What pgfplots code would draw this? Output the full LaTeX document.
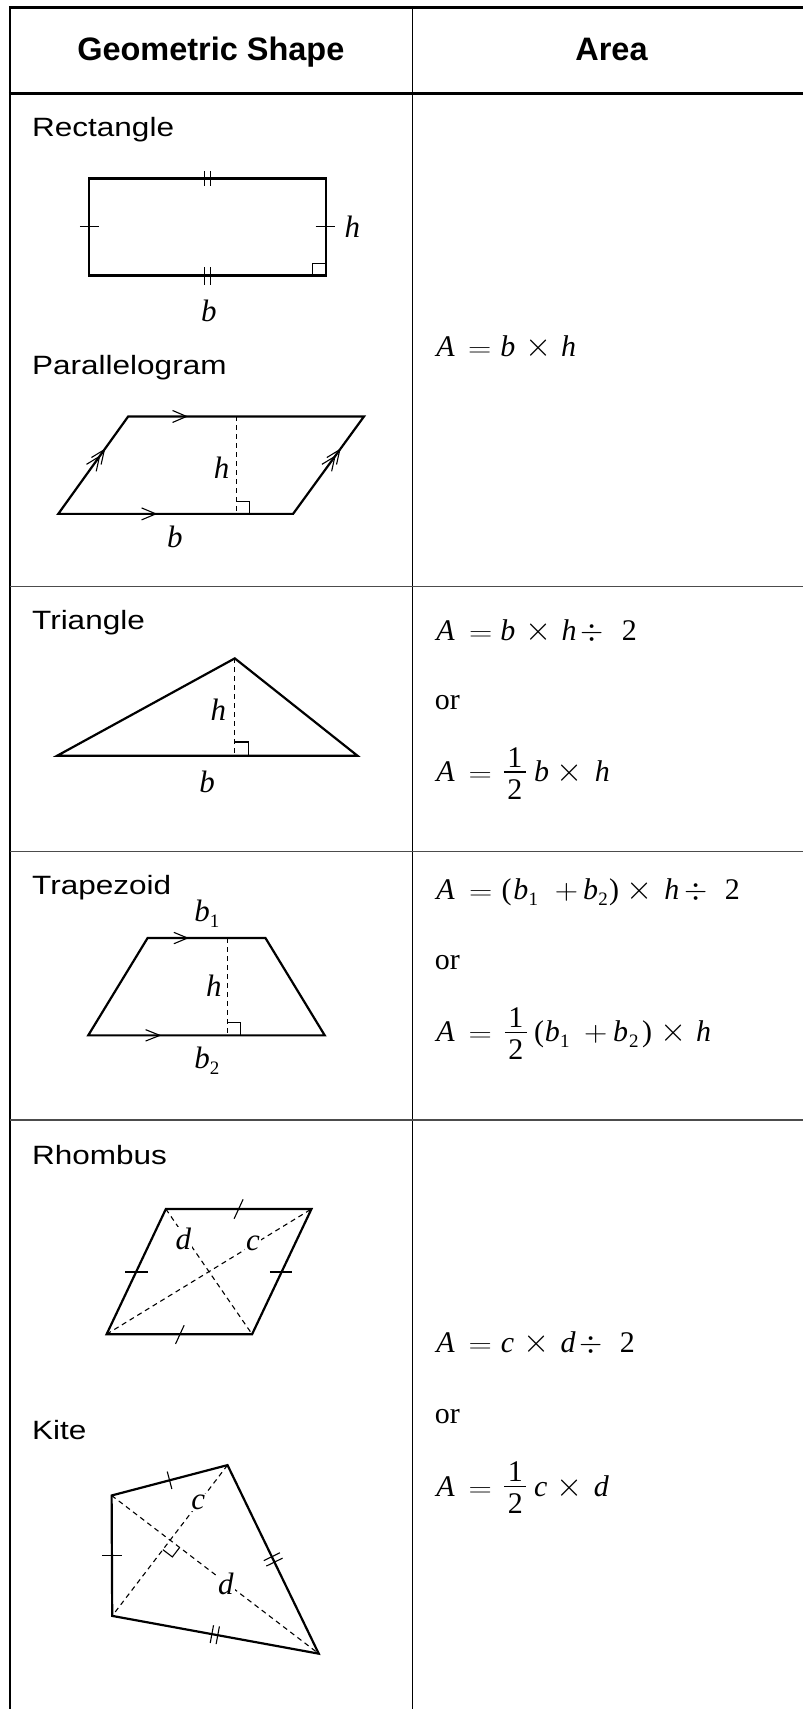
\documentclass[border=0pt]{standalone}
\usepackage{fontspec}
\setmainfont{Liberation Serif}
\setsansfont{Liberation Sans}
\usepackage{graphicx}
\usepackage{pgfplots}
\pgfplotsset{compat=1.18}

% pieces of the area formulas, each set centred on an x offset
\newcommand\at[2]{\rlap{\hspace*{#1pt}\makebox[0pt]{#2}}}
\newcommand\eq{\scalebox{1.3}[1]{$=$}}
\newcommand\pl{\scalebox{1.3}[1.15]{$+$}}
\newcommand\ti{\scalebox{1.35}{$\times$}}
\newcommand\dv{\scalebox{1.2}{$\div$}}
\newcommand\I[1]{\textit{#1}}
\newcommand\s[1]{\raisebox{-6pt}{\fontsize{19}{20}\selectfont #1}}
% one half, stacked by hand
\newcommand\half[1]{\at{#1}{\raisebox{14.5pt}{1}}\at{#1}{\rule[9pt]{22pt}{1.2pt}}\at{#1}{\raisebox{-17.5pt}{2}}}
\newcommand\lab[1]{\scalebox{1.19}[1]{#1}}

\tikzset{
    figline/.style = {black, line width = 2.2pt, line join = miter},
    tickline/.style = {black, line width = 1.1pt},
    dashline/.style = {black, line width = 1.1pt, dash pattern = on 5pt off 4pt},
    thickrule/.style = {black, line width = 2.4pt},
    thinrule/.style = {black!70, line width = 1.3pt},
    lbl/.style = {anchor = base west, inner sep = 0pt, font = \sffamily\fontsize{26.5}{28}\selectfont},
    hdr/.style = {anchor = base, inner sep = 0pt, font = \sffamily\bfseries\fontsize{32.5}{34}\selectfont},
    frm/.style = {anchor = base west, inner sep = 0pt, font = \fontsize{30}{30}\selectfont},
    var/.style = {anchor = center, inner sep = 1pt, font = \fontsize{31}{32}\selectfont\itshape}
}

\begin{document}
\begin{tikzpicture}
\begin{axis}[
    width = 804pt, height = 1710pt,
    scale only axis,
    xmin = 0, xmax = 804, ymin = 0, ymax = 1710,
    y dir = reverse,
    hide axis,
    clip = false
]
    % page
    \addplot[draw = none, fill = white] coordinates {(0,0) (804,0) (804,1710) (0,1710)};

    % table rules
    \addplot[thickrule] coordinates {(9,7.5) (804,7.5)};
    \addplot[thickrule] coordinates {(9,93.5) (804,93.5)};
    \addplot[black, line width = 2.8pt] coordinates {(10,6.4) (10,1710)};
    \addplot[black, line width = 1.2pt] coordinates {(413,7.5) (413,1710)};
    \addplot[thinrule] coordinates {(10,587) (804,587)};
    \addplot[thinrule] coordinates {(10,852) (804,852)};
    \addplot[thinrule] coordinates {(10,1121) (804,1121)};

    \node[hdr] at (axis cs:211,61) {Geometric Shape};
    \node[hdr] at (axis cs:612,61) {Area};

    % rectangle
    \node[lbl] at (axis cs:32,137) {\lab{Rectangle}};
    \addplot[figline] coordinates {(89.3,178.6) (326,178.6) (326,275.7) (89.3,275.7)} -- cycle;
    \addplot[tickline] coordinates {(204.7,170.9) (204.7,186.4)};
    \addplot[tickline] coordinates {(210.7,170.9) (210.7,186.4)};
    \addplot[tickline] coordinates {(204.7,267.3) (204.7,285)};
    \addplot[tickline] coordinates {(210.7,267.3) (210.7,285)};
    \addplot[tickline] coordinates {(80,226.8) (99.3,226.8)};
    \addplot[tickline] coordinates {(316,226.8) (335,226.8)};
    \addplot[tickline] coordinates {(312.7,275.7) (312.7,263.3) (326,263.3)};
    \node[var] at (axis cs:352.7,226.8) {h};
    \node[var] at (axis cs:209,310.7) {b};

    % parallelogram
    \node[lbl] at (axis cs:32,375) {\lab{Parallelogram}};
    \addplot[figline] coordinates {(58.3,514.3) (293.3,514.3) (364.3,416.8) (128.3,416.8)} -- cycle;
    \addplot[dashline] coordinates {(236.7,416.8) (236.7,514.3)};
    \addplot[tickline] coordinates {(236.7,501.7) (249.3,501.7) (249.3,514.3)};
    \addplot[tickline] coordinates {(172.7,410.8) (186.7,416.8) (172.7,422.8)};
    \addplot[tickline] coordinates {(141.7,508.3) (156,514.3) (141.7,520.3)};
    \addplot[tickline] coordinates {(101.2,464.9) (104.5,450) (91.5,457.9)};
    \addplot[tickline] coordinates {(96.3,471.7) (99.6,456.8) (86.6,464.7)};
    \addplot[tickline] coordinates {(336.8,464.9) (340.1,450) (327.1,457.9)};
    \addplot[tickline] coordinates {(331.9,471.7) (335.2,456.8) (322.2,464.7)};
    \node[var] at (axis cs:221.7,467.9) {h};
    \node[var] at (axis cs:175,537.5) {b};

    % triangle
    \node[lbl] at (axis cs:32,630.5) {\lab{Triangle}};
    \addplot[figline] coordinates {(57.3,756.3) (357.7,756.3) (235,658.9)} -- cycle;
    \addplot[dashline] coordinates {(235,658.9) (235,756.3)};
    \addplot[tickline] coordinates {(235,742.6) (248.3,742.6) (248.3,756.3)};
    \node[var] at (axis cs:218.5,710) {h};
    \node[var] at (axis cs:207.3,782.5) {b};

    % trapezoid
    \node[lbl] at (axis cs:32,895.5) {\lab{Trapezoid}};
    \addplot[figline] coordinates {(88.3,1036.2) (325,1036.2) (265.7,938.8) (147.7,938.8)} -- cycle;
    \addplot[dashline] coordinates {(227.7,938.8) (227.7,1036.2)};
    \addplot[tickline] coordinates {(227.7,1023.2) (240.7,1023.2) (240.7,1036.2)};
    \addplot[tickline] coordinates {(174,933.1) (187.7,938.8) (174,944.5)};
    \addplot[tickline] coordinates {(145.7,1030.5) (160,1036.2) (145.7,1041.9)};
    \node[var] at (axis cs:207,914) {b\s{\upshape 1}};
    \node[var] at (axis cs:214,987) {h};
    \node[var] at (axis cs:207,1062) {b\s{\upshape 2}};

    % rhombus
    \node[lbl] at (axis cs:32,1165.5) {\lab{Rhombus}};
    \addplot[figline] coordinates {(106.7,1335.3) (252.3,1335.3) (311.7,1210) (166,1210)} -- cycle;
    \addplot[dashline] coordinates {(166,1210) (252.3,1335.3)};
    \addplot[dashline] coordinates {(106.7,1335.3) (311.7,1210)};
    \addplot[tickline] coordinates {(234.3,1219.8) (243.3,1200.3)};
    \addplot[tickline] coordinates {(175.7,1345) (184.3,1326.3)};
    \addplot[tickline] coordinates {(125.3,1273) (147.7,1273)};
    \addplot[tickline] coordinates {(270,1273) (292.7,1273)};
    \node[var, fill = white] at (axis cs:183.5,1240) {d};
    \node[var, fill = white] at (axis cs:253.3,1244) {c};

    % kite
    \node[lbl] at (axis cs:32,1440.5) {\lab{Kite}};
    \addplot[figline] coordinates {(111.7,1496.7) (227.7,1466.3) (319,1655) (112.3,1617.2)} -- cycle;
    \addplot[dashline] coordinates {(111.7,1496.7) (319,1655)};
    \addplot[dashline] coordinates {(227.7,1466.3) (112.3,1617.2)};
    \addplot[tickline] coordinates {(179.8,1548.7) (172.5,1558.2) (163,1550.9)};
    \addplot[tickline] coordinates {(167.4,1472.8) (172,1490.2)};
    \addplot[tickline] coordinates {(102.3,1557) (121.7,1557)};
    \addplot[tickline] coordinates {(280.2,1554) (264,1561.9)};
    \addplot[tickline] coordinates {(282.8,1559.4) (266.6,1567.3)};
    \addplot[tickline] coordinates {(213.7,1626.6) (210.4,1644.3)};
    \addplot[tickline] coordinates {(219.6,1627.7) (216.3,1645.4)};
    \node[var, fill = white] at (axis cs:198.5,1504) {c};
    \node[var, fill = white] at (axis cs:226,1585) {d};

    % area column
    \node[frm] at (axis cs:435,357) {\at{10.2}{\I{A}}\at{44.5}{\eq}\at{72.5}{\I{b}}\at{103}{\ti}\at{133.5}{\I{h}}};

    \node[frm] at (axis cs:435,640.7) {\at{10.2}{\I{A}}\at{45.5}{\eq}\at{72.5}{\I{b}}\at{103}{\ti}\at{133.8}{\I{h}}\at{157.2}{\dv}\at{194.2}{2}};
    \node[frm] at (axis cs:435,710) {or};
    \node[frm] at (axis cs:435,782.3) {\at{10.2}{\I{A}}\at{45}{\eq}\half{79.7}\at{106.3}{\I{b}}\at{134.7}{\ti}\at{167.2}{\I{h}}};

    \node[frm] at (axis cs:435,900) {\at{10.2}{\I{A}}\at{45.5}{\eq}\at{71.3}{(}\at{85.5}{\I{b}}\at{98}{\s{1}}\at{131.3}{\pl}\at{155.5}{\I{b}}\at{168}{\s{2}}\at{178.8}{)}\at{204.7}{\ti}\at{236.7}{\I{h}}\at{260.5}{\dv}\at{297.2}{2}};
    \node[frm] at (axis cs:435,970) {or};
    \node[frm] at (axis cs:435,1042.7) {\at{10.2}{\I{A}}\at{45}{\eq}\half{80.5}\at{103.8}{(}\at{117.2}{\I{b}}\at{129.7}{\s{1}}\at{160.5}{\pl}\at{185.5}{\I{b}}\at{198.8}{\s{2}}\at{212}{)}\at{238}{\ti}\at{268.5}{\I{h}}};

    \node[frm] at (axis cs:435,1354) {\at{10.2}{\I{A}}\at{45}{\eq}\at{72.2}{\I{c}}\at{101.3}{\ti}\at{133}{\I{d}}\at{156.3}{\dv}\at{192.2}{2}};
    \node[frm] at (axis cs:435,1425) {or};
    \node[frm] at (axis cs:435,1497.3) {\at{10.2}{\I{A}}\at{45}{\eq}\half{80}\at{105.5}{\I{c}}\at{134.7}{\ti}\at{166.3}{\I{d}}};
\end{axis}
\end{tikzpicture}
\end{document}
